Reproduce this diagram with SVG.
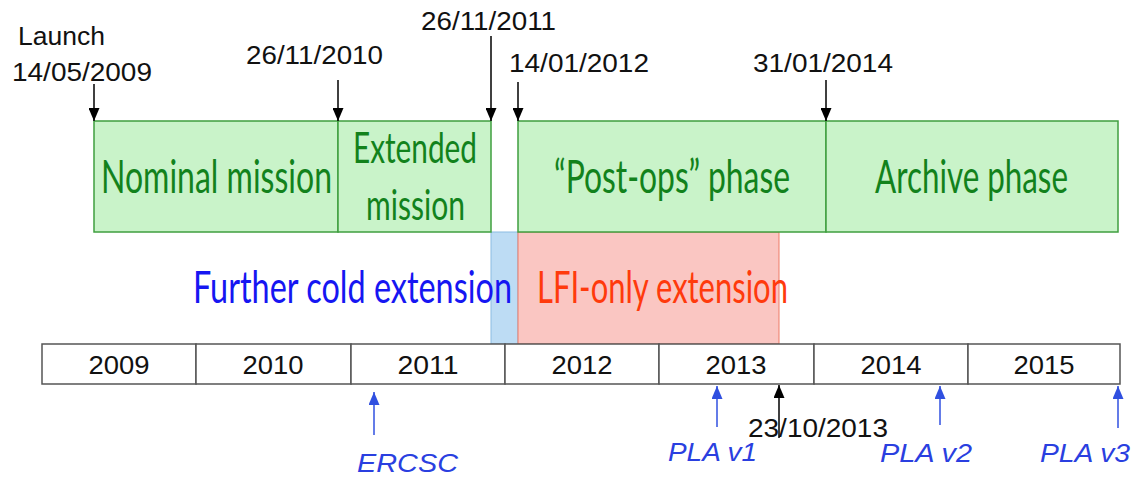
<svg xmlns="http://www.w3.org/2000/svg" width="1135" height="477" viewBox="0 0 1135 477">
<style>
.bg{fill:#ffffff}
.phase{fill:#c9f3c9;stroke:#3f9f3f;stroke-width:1.5}
.cold{fill:#bddcf4;stroke:#8cbbe2;stroke-width:1}
.lfi{fill:#fac6c2;stroke:#ee7a66;stroke-width:1}
.year{fill:#ffffff;stroke:#555555;stroke-width:1.5}
.gt{font-family:Lato,"Open Sans",sans-serif;font-size:46px;fill:#12821c}
.gs{font-family:Lato,"Open Sans",sans-serif;font-size:42px;fill:#12821c}
.bt{font-family:Lato,"Open Sans",sans-serif;font-size:44px;fill:#1616f2}
.rt{font-family:Lato,"Open Sans",sans-serif;font-size:44px;fill:#ff3a0c}
.dt{font-family:"Liberation Sans",Arial,sans-serif;font-size:26px;fill:#111111}
.yt{font-family:"Liberation Sans",Arial,sans-serif;font-size:26px;fill:#111111;text-anchor:middle}
.pt{font-family:"Liberation Sans",Arial,sans-serif;font-size:26px;font-style:italic;fill:#2a3fe0}
.ka{stroke:#000000;stroke-width:1.5;fill:none;marker-end:url(#ahk)}
.ba{stroke:#3050e0;stroke-width:1.5;fill:none;marker-end:url(#ahb)}
</style>
<defs>
<marker id="ahk" viewBox="0 0 13 11" refX="13" refY="5.5" markerWidth="13" markerHeight="11" markerUnits="userSpaceOnUse" orient="auto">
<path d="M0,0 L13,5.5 L0,11 z" fill="#000000"/>
</marker>
<marker id="ahb" viewBox="0 0 13 11" refX="13" refY="5.5" markerWidth="13" markerHeight="11" markerUnits="userSpaceOnUse" orient="auto">
<path d="M0,0 L13,5.5 L0,11 z" fill="#3050e0"/>
</marker>
</defs>
<rect class="bg" x="0" y="0" width="1135" height="477"/>

<g id="cold-extension">
<rect class="cold" x="491" y="232" width="27" height="112"/>
</g>
<g id="lfi-extension">
<rect class="lfi" x="518" y="232" width="261" height="112"/>
</g>

<g id="nominal-mission">
<rect class="phase" x="94" y="121" width="244" height="111"/>
<text class="gt" x="101" y="193" textLength="231" lengthAdjust="spacingAndGlyphs">Nominal mission</text>
</g>
<g id="extended-mission">
<rect class="phase" x="338" y="121" width="153" height="111"/>
<text class="gs" x="353" y="163" textLength="124" lengthAdjust="spacingAndGlyphs">Extended</text>
<text class="gs" x="366" y="220" textLength="99" lengthAdjust="spacingAndGlyphs">mission</text>
</g>
<g id="post-ops-phase">
<rect class="phase" x="518" y="121" width="308" height="111"/>
<text class="gt" x="554" y="193" textLength="236" lengthAdjust="spacingAndGlyphs">“Post-ops” phase</text>
</g>
<g id="archive-phase">
<rect class="phase" x="826" y="121" width="292" height="111"/>
<text class="gt" x="875" y="193" textLength="193" lengthAdjust="spacingAndGlyphs">Archive phase</text>
</g>

<g id="cold-label">
<text class="bt" x="193" y="303" textLength="319" lengthAdjust="spacingAndGlyphs">Further cold extension</text>
</g>
<g id="lfi-label">
<text class="rt" x="537" y="303" textLength="251" lengthAdjust="spacingAndGlyphs">LFI-only extension</text>
</g>

<g id="years">
<rect class="year" x="42" y="344" width="154" height="40"/>
<rect class="year" x="196" y="344" width="155" height="40"/>
<rect class="year" x="351" y="344" width="154" height="40"/>
<rect class="year" x="505" y="344" width="154" height="40"/>
<rect class="year" x="659" y="344" width="155" height="40"/>
<rect class="year" x="814" y="344" width="154" height="40"/>
<rect class="year" x="968" y="344" width="152" height="40"/>
<text class="yt" x="119" y="374" textLength="61" lengthAdjust="spacingAndGlyphs">2009</text>
<text class="yt" x="273" y="374" textLength="61" lengthAdjust="spacingAndGlyphs">2010</text>
<text class="yt" x="428" y="374" textLength="61" lengthAdjust="spacingAndGlyphs">2011</text>
<text class="yt" x="582" y="374" textLength="61" lengthAdjust="spacingAndGlyphs">2012</text>
<text class="yt" x="736" y="374" textLength="61" lengthAdjust="spacingAndGlyphs">2013</text>
<text class="yt" x="891" y="374" textLength="61" lengthAdjust="spacingAndGlyphs">2014</text>
<text class="yt" x="1044" y="374" textLength="61" lengthAdjust="spacingAndGlyphs">2015</text>
</g>

<g id="date-labels">
<text class="dt" x="18" y="45" textLength="87" lengthAdjust="spacingAndGlyphs">Launch</text>
<text class="dt" x="12" y="81" textLength="140" lengthAdjust="spacingAndGlyphs">14/05/2009</text>
<text class="dt" x="246" y="64" textLength="137" lengthAdjust="spacingAndGlyphs">26/11/2010</text>
<text class="dt" x="421" y="30" textLength="135" lengthAdjust="spacingAndGlyphs">26/11/2011</text>
<text class="dt" x="509" y="72" textLength="140" lengthAdjust="spacingAndGlyphs">14/01/2012</text>
<text class="dt" x="753" y="72" textLength="140" lengthAdjust="spacingAndGlyphs">31/01/2014</text>
<text class="dt" x="748" y="437" textLength="140" lengthAdjust="spacingAndGlyphs">23/10/2013</text>
</g>

<g id="release-labels">
<text class="pt" x="357" y="472" textLength="101" lengthAdjust="spacingAndGlyphs">ERCSC</text>
<text class="pt" x="668" y="461" textLength="89" lengthAdjust="spacingAndGlyphs">PLA v1</text>
<text class="pt" x="880" y="462" textLength="92" lengthAdjust="spacingAndGlyphs">PLA v2</text>
<text class="pt" x="1040" y="462" textLength="90" lengthAdjust="spacingAndGlyphs">PLA v3</text>
</g>

<g id="connectors">
<line class="ka" x1="94" y1="84" x2="94" y2="121"/>
<line class="ka" x1="338" y1="80" x2="338" y2="121"/>
<line class="ka" x1="491" y1="36" x2="491" y2="121"/>
<line class="ka" x1="518" y1="82" x2="518" y2="121"/>
<line class="ka" x1="826" y1="80" x2="826" y2="121"/>
<line class="ka" x1="779" y1="438" x2="779" y2="385"/>
<line class="ba" x1="374" y1="435" x2="374" y2="392"/>
<line class="ba" x1="717" y1="427" x2="717" y2="386"/>
<line class="ba" x1="940" y1="425" x2="940" y2="386"/>
<line class="ba" x1="1118" y1="428" x2="1118" y2="386"/>
</g>
</svg>
